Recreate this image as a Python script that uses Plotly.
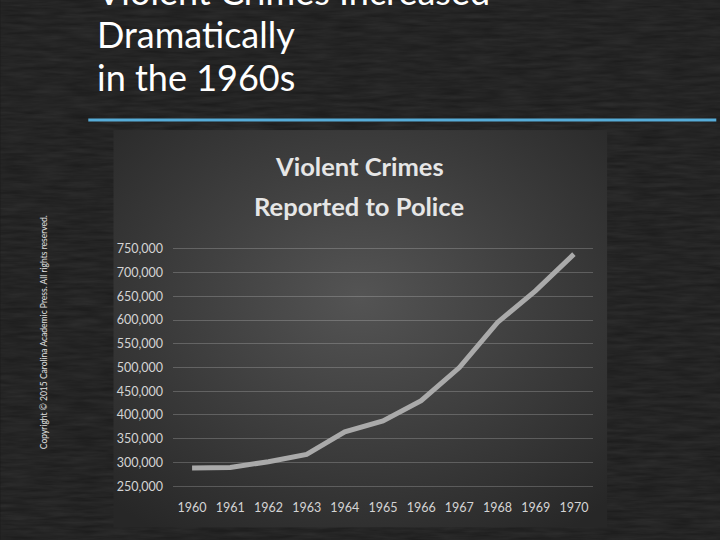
import base64
import plotly.graph_objects as go

# ---- data ----
years = [1960, 1961, 1962, 1963, 1964, 1965, 1966, 1967, 1968, 1969, 1970]
violent_crimes = [288460, 289390, 301510, 316970, 364220, 387390, 430180, 499930, 595010, 661870, 738820]
y_ticks = [250000, 300000, 350000, 400000, 450000, 500000, 550000, 600000, 650000, 700000, 750000]
y_tick_labels = [f"{v:,}" for v in y_ticks]

W, H = 720, 540
# pixel positions of 750,000 and 250,000 gridlines
Y750, Y250 = 249.3, 485.7
PPU = (Y250 - Y750) / 500000.0
PAD = 6000
L, R = 172.7, 592.7
T, B = Y750 - PAD * PPU, Y250 + PAD * PPU
PW, PH = R - L, B - T


def fx(px):
    return (px - L) / PW


def fy(py):
    return (B - py) / PH


def svg_uri(svg):
    return "data:image/svg+xml;base64," + base64.b64encode(svg.encode()).decode()


bg_svg = (
    "<svg xmlns='http://www.w3.org/2000/svg' width='720' height='540'>"
    "<filter id='n'><feTurbulence type='fractalNoise' baseFrequency='0.03 0.25' numOctaves='3' seed='4'/>"
    "<feColorMatrix values='0 0 0 0 1  0 0 0 0 1  0 0 0 0 1  0.09 0 0 0 0'/></filter>"
    "<rect width='720' height='540' fill='#1a1a1a'/>"
    "<rect width='720' height='540' filter='url(#n)'/>"
    "</svg>"
)
panel_svg = (
    "<svg xmlns='http://www.w3.org/2000/svg' width='494' height='396'>"
    "<defs><radialGradient id='g' cx='50%' cy='42%' r='72%'>"
    "<stop offset='0' stop-color='#545454'/><stop offset='1' stop-color='#272727'/>"
    "</radialGradient></defs>"
    "<rect width='494' height='396' fill='url(#g)'/></svg>"
)

fig = go.Figure()
fig.add_trace(go.Scatter(
    x=years, y=violent_crimes, mode="lines",
    line=dict(color="#aaaaaa", width=5),
    hoverinfo="skip", showlegend=False,
))

tick_font = dict(family="Lato, sans-serif", size=12.5, color="#d4d4d4")

fig.update_layout(
    width=W, height=H,
    margin=dict(l=L, r=W - R, t=T, b=H - B, pad=0),
    paper_bgcolor="#1a1a1a",
    plot_bgcolor="rgba(0,0,0,0)",
    showlegend=False,
    xaxis=dict(
        range=[1959.5, 1970.5], tickvals=years, ticktext=[str(y) for y in years],
        showgrid=False, zeroline=False, showline=False, ticks="",
        tickfont=tick_font, ticklabelstandoff=9,
    ),
    yaxis=dict(
        range=[250000 - PAD, 750000 + PAD], tickvals=y_ticks, ticktext=y_tick_labels,
        showgrid=True, gridcolor="rgba(255,255,255,0.2)", gridwidth=1,
        zeroline=False, showline=False, ticks="",
        tickfont=tick_font, ticklabelstandoff=9,
    ),
    images=[
        dict(source=svg_uri(bg_svg), xref="paper", yref="paper",
             x=fx(0), y=fy(0), sizex=W / PW, sizey=H / PH,
             xanchor="left", yanchor="top", sizing="stretch", layer="below"),
        dict(source=svg_uri(panel_svg), xref="paper", yref="paper",
             x=fx(113), y=fy(131), sizex=494 / PW, sizey=396 / PH,
             xanchor="left", yanchor="top", sizing="stretch", layer="below"),
    ],
    shapes=[
        dict(type="line", xref="paper", yref="paper",
             x0=fx(88), x1=fx(716), y0=fy(121), y1=fy(121),
             line=dict(color="#56acd8", width=3)),
    ],
)

title_font = dict(family="Lato, sans-serif", size=36, color="#ffffff")
for txt, py in [("Violent Crimes Increased", -8), ("Dramatically", 35), ("in the 1960s", 78)]:
    fig.add_annotation(text=txt, xref="paper", yref="paper", x=fx(95), y=fy(py),
                       xanchor="left", yanchor="middle", showarrow=False, font=title_font)

chart_title_font = dict(family="Lato, sans-serif", size=25.5, color="#e6e6e6", weight="bold")
for txt, py in [("Violent Crimes", 167), ("Reported to Police", 207)]:
    fig.add_annotation(text=txt, xref="paper", yref="paper", x=fx(359), y=fy(py),
                       xanchor="center", yanchor="middle", showarrow=False, font=chart_title_font)

fig.add_annotation(
    text="Copyright © 2015 Carolina Academic Press. All rights reserved.",
    xref="paper", yref="paper", x=fx(44), y=fy(332), textangle=-90,
    xanchor="center", yanchor="middle", showarrow=False,
    font=dict(family="Lato, sans-serif", size=8.5, color="#e0e0e0"),
)

fig.write_html("out.html", config={"displayModeBar": False},
               post_script="document.body.style.margin='0';")
